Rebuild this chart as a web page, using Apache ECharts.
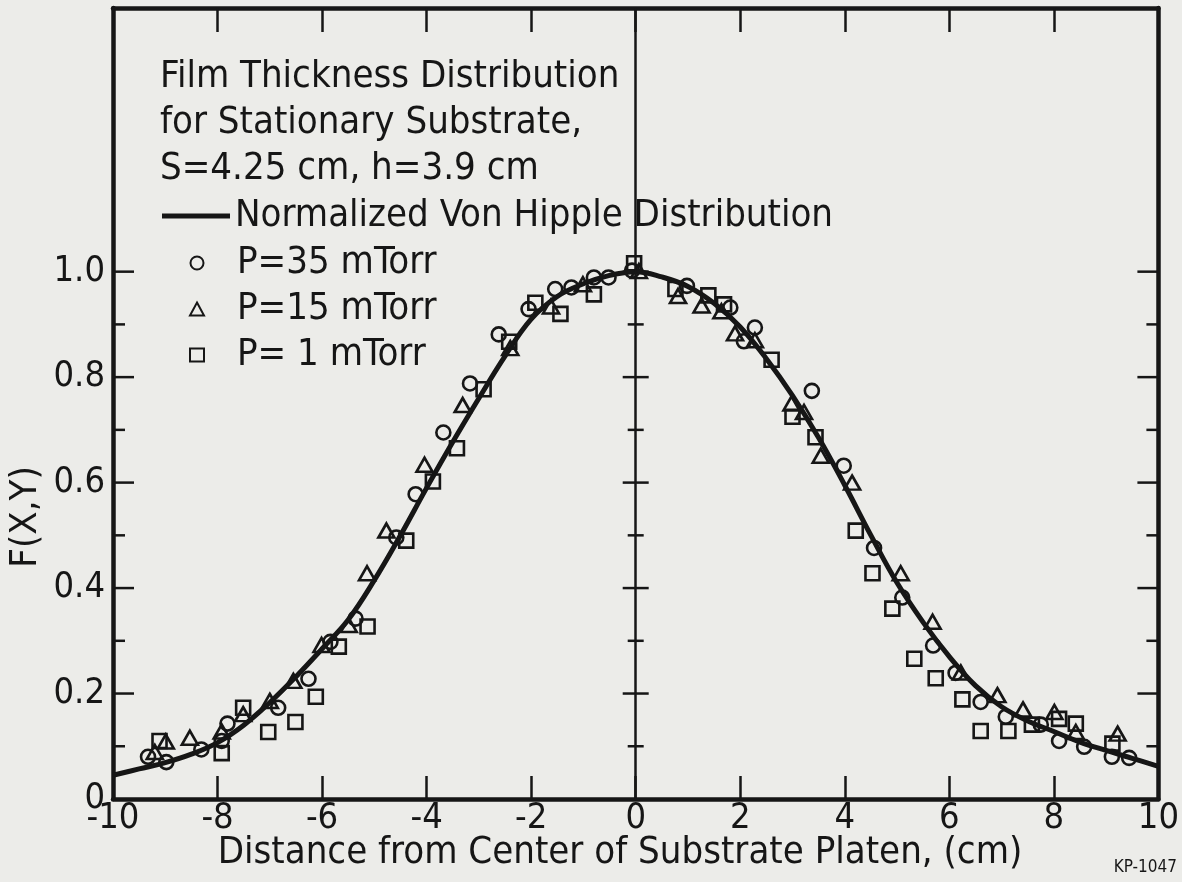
<!DOCTYPE html>
<html>
<head>
<meta charset="utf-8">
<script src="https://cdn.jsdelivr.net/npm/echarts@6/dist/echarts.min.js"></script>
<style>
  html, body { margin: 0; padding: 0; background: #ecece9; }
  #chart { width: 1182px; height: 882px; }
</style>
</head>
<body>
<div id="chart"></div>
<script>
var FONT = '"Liberation Sans Narrow", "DejaVu Sans Condensed", "Liberation Sans", sans-serif';
var INK = '#161616';
var PAPER = '#ecece9';

// normalized Von Hipple curve
var curveX = [-10, -9.5, -9, -8.5, -8, -7.5, -7, -6.5, -6, -5.5, -5, -4.5, -4, -3.5, -3, -2.5, -2, -1.5, -1, -0.5, 0,
              0.5, 1, 1.5, 2, 2.5, 3, 3.5, 4, 4.5, 5, 5.5, 6, 6.5, 7, 7.5, 8, 8.5, 9, 9.5, 10];
var curveY = [0.045, 0.057, 0.069, 0.085, 0.107, 0.14, 0.183, 0.232, 0.285, 0.34, 0.415, 0.5, 0.59, 0.677, 0.76, 0.84, 0.91, 0.953, 0.977, 0.993, 1.0,
              0.99, 0.972, 0.94, 0.895, 0.835, 0.765, 0.685, 0.595, 0.5, 0.41, 0.335, 0.27, 0.215, 0.175, 0.148, 0.128, 0.108, 0.092, 0.077, 0.062];

// P = 35 mTorr (circles)
var p35 = [[-9.33,0.080],[-8.98,0.070],[-8.31,0.094],[-7.92,0.110],[-7.81,0.143],[-6.84,0.173],[-6.26,0.228],[-5.84,0.298],
  [-5.36,0.342],[-4.58,0.496],[-4.21,0.578],[-3.68,0.695],[-3.17,0.788],[-2.62,0.881],[-2.05,0.929],[-1.54,0.967],[-1.23,0.970],
  [-0.80,0.989],[-0.52,0.989],[-0.07,1.002],[0.98,0.973],[1.81,0.932],[2.07,0.868],[2.28,0.894],[3.37,0.774],[3.98,0.632],
  [4.56,0.476],[5.10,0.382],[5.69,0.291],[6.12,0.239],[6.60,0.184],[7.08,0.156],[7.75,0.141],[8.10,0.110],[8.58,0.099],
  [9.11,0.080],[9.44,0.078]];

// P = 15 mTorr (triangles)
var p15 = [[-9.20,0.089],[-8.99,0.109],[-8.53,0.116],[-7.92,0.128],[-7.51,0.161],[-7.00,0.186],[-6.55,0.224],[-6.01,0.292],
  [-5.49,0.330],[-5.14,0.428],[-4.77,0.509],[-4.04,0.634],[-3.31,0.747],[-2.40,0.855],[-1.62,0.934],[-1.01,0.976],[0.06,1.001],
  [0.81,0.954],[1.26,0.936],[1.64,0.925],[1.90,0.883],[2.28,0.870],[2.98,0.750],[3.22,0.734],[3.54,0.651],[4.14,0.600],
  [5.07,0.428],[5.68,0.336],[6.22,0.240],[6.92,0.197],[7.41,0.170],[8.01,0.165],[8.42,0.127],[9.22,0.124]];

// P = 1 mTorr (squares)
var p1 = [[-9.11,0.110],[-7.92,0.087],[-7.51,0.173],[-7.03,0.127],[-6.51,0.146],[-6.12,0.194],[-5.68,0.289],[-5.13,0.327],
  [-4.39,0.490],[-3.88,0.602],[-3.42,0.665],[-2.91,0.777],[-2.42,0.867],[-1.92,0.941],[-1.44,0.920],[-0.80,0.957],[-0.03,1.016],
  [0.76,0.967],[1.39,0.955],[1.69,0.938],[2.60,0.833],[3.00,0.725],[3.44,0.686],[4.21,0.509],[4.53,0.428],[4.91,0.361],
  [5.33,0.266],[5.74,0.229],[6.25,0.189],[6.60,0.129],[7.13,0.129],[7.58,0.141],[8.10,0.152],[8.42,0.143],[9.12,0.105]];

// y tick marks drawn on left, right and centre lines
var yTicks = [0.1, 0.2, 0.3, 0.4, 0.5, 0.6, 0.7, 0.8, 0.9, 1.0];

var chart = echarts.init(document.getElementById('chart'));

function tickRender(params, api) {
  var v = api.value(1);
  var major = Math.round(v * 10) % 2 === 0;
  var L = api.coord([-10, v]), R = api.coord([10, v]), C = api.coord([0, v]);
  var len = major ? 21 : 12, half = major ? 13 : 8;
  var st = { stroke: INK, lineWidth: 2.5 };
  return {
    type: 'group',
    children: [
      { type: 'line', shape: { x1: L[0], y1: L[1], x2: L[0] + len, y2: L[1] }, style: st },
      { type: 'line', shape: { x1: R[0], y1: R[1], x2: R[0] - len, y2: R[1] }, style: st },
      { type: 'line', shape: { x1: C[0] - half, y1: C[1], x2: C[0] + half, y2: C[1] }, style: st }
    ]
  };
}

var symStyle = { color: 'transparent', borderColor: INK, borderWidth: 2.6, opacity: 1 };

var option = {
  backgroundColor: PAPER,
  animation: false,
  textStyle: { fontFamily: FONT, color: INK },
  grid: { left: 113, right: 22, top: 8, bottom: 83 },
  xAxis: [
    {
      type: 'value', min: -10, max: 10, interval: 2, position: 'bottom',
      axisLine: { onZero: false, lineStyle: { color: INK, width: 4.5 } },
      axisTick: { inside: true, length: 23, lineStyle: { color: INK, width: 2.5 } },
      axisLabel: { fontSize: 36, color: INK, margin: 2, fontFamily: FONT },
      splitLine: { show: false }
    },
    {
      type: 'value', min: -10, max: 10, interval: 2, position: 'top',
      axisLine: { onZero: false, lineStyle: { color: INK, width: 4.5 } },
      axisTick: { inside: true, length: 24, lineStyle: { color: INK, width: 2.5 } },
      axisLabel: { show: false },
      splitLine: { show: false }
    }
  ],
  yAxis: [
    {
      type: 'value', min: 0, max: 1.5, interval: 0.2, position: 'left',
      axisLine: { show: true, onZero: false, lineStyle: { color: INK, width: 4.5 } },
      axisTick: { show: false },
      axisLabel: {
        fontSize: 36, color: INK, margin: 8, fontFamily: FONT, showMaxLabel: false,
        formatter: function (v) { return v > 1.001 ? '' : (v === 0 ? '0' : v.toFixed(1)); }
      },
      splitLine: { show: false }
    },
    {
      type: 'value', min: 0, max: 1.5, interval: 0.2, position: 'right',
      axisLine: { show: true, onZero: false, lineStyle: { color: INK, width: 4.5 } },
      axisTick: { show: false },
      axisLabel: { show: false },
      splitLine: { show: false }
    }
  ],
  legend: [
    {
      data: [{ name: 'Normalized Von Hipple Distribution', icon: 'rect' }],
      left: 162, top: 195, orient: 'vertical',
      itemWidth: 68, itemHeight: 5, itemGap: 0,
      symbolKeepAspect: false,
      padding: [2, 4, 2, 0],
      backgroundColor: PAPER,
      textStyle: { fontSize: 38, color: INK, fontFamily: FONT },
      selectedMode: false
    },
    {
      data: [
        { name: 'P=35 mTorr', icon: 'circle' },
        { name: 'P=15 mTorr', icon: 'triangle' },
        { name: 'P= 1 mTorr', icon: 'rect' }
      ],
      left: 189, top: 243, orient: 'vertical',
      itemWidth: 14, itemHeight: 13, itemGap: 6,
      padding: 0,
      textStyle: { fontSize: 38, color: INK, fontFamily: FONT, lineHeight: 40, padding: [0, 0, 0, 28] },
      selectedMode: false
    }
  ],
  graphic: [
    {
      type: 'text', left: 160, top: 54, z: 10,
      style: {
        text: 'Film Thickness Distribution\nfor Stationary Substrate,\nS=4.25 cm, h=3.9 cm',
        font: '38px ' + FONT, fill: INK, lineHeight: 46,
        backgroundColor: PAPER
      }
    },
    {
      type: 'text', x: 26, y: 517, rotation: Math.PI / 2,
      style: { text: 'F(X,Y)', font: '38px ' + FONT, fill: INK, align: 'center', verticalAlign: 'middle' }
    },
    {
      type: 'text', x: 620, y: 853,
      style: { text: 'Distance from Center of Substrate Platen, (cm)', font: '38px ' + FONT, fill: INK, align: 'center', verticalAlign: 'middle' }
    },
    {
      type: 'text', x: 1177, y: 868,
      style: { text: 'KP-1047', font: '17px ' + FONT, fill: INK, align: 'right', verticalAlign: 'middle' }
    }
  ],
  series: [
    {
      name: 'Normalized Von Hipple Distribution',
      type: 'line',
      data: curveX.map(function (x, i) { return [x, curveY[i]]; }),
      smooth: 0.4,
      showSymbol: false,
      symbol: 'none',
      lineStyle: { color: INK, width: 5 },
      itemStyle: { color: INK },
      z: 3,
      markLine: {
        silent: true,
        symbol: ['none', 'none'],
        label: { show: false },
        lineStyle: { color: INK, width: 2.5, type: 'solid' },
        data: [{ xAxis: 0 }]
      }
    },
    {
      name: 'ticks',
      type: 'custom',
      data: yTicks.map(function (v) { return [0, v]; }),
      renderItem: tickRender,
      silent: true,
      z: 2
    },
    {
      name: 'P=35 mTorr', type: 'scatter', data: p35,
      symbol: 'circle', symbolSize: 14, itemStyle: symStyle, z: 4
    },
    {
      name: 'P=15 mTorr', type: 'scatter', data: p15,
      symbol: 'triangle', symbolSize: [16, 14], itemStyle: symStyle, z: 4
    },
    {
      name: 'P= 1 mTorr', type: 'scatter', data: p1,
      symbol: 'rect', symbolSize: 14, itemStyle: symStyle, z: 4
    }
  ]
};

chart.setOption(option);
</script>
</body>
</html>
